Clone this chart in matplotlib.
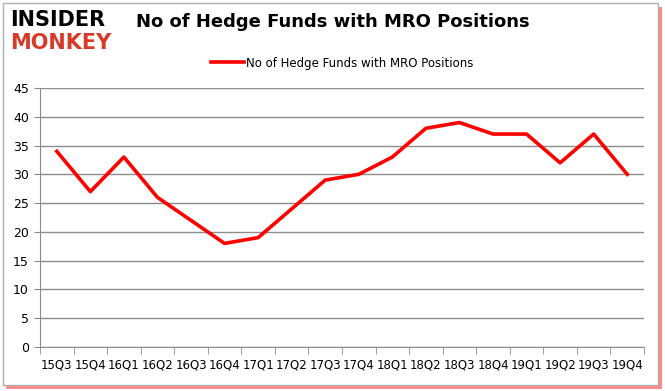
import matplotlib
matplotlib.use('Agg')
import matplotlib.pyplot as plt
from matplotlib.patches import Rectangle

quarters = ['15Q3', '15Q4', '16Q1', '16Q2', '16Q3', '16Q4', '17Q1', '17Q2', '17Q3',
            '17Q4', '18Q1', '18Q2', '18Q3', '18Q4', '19Q1', '19Q2', '19Q3', '19Q4']
funds = [34, 27, 33, 26, 22, 18, 19, 24, 29, 30, 33, 38, 39, 37, 37, 32, 37, 30]
series_name = 'No of Hedge Funds with MRO Positions'

fig = plt.figure(figsize=(6.65, 3.91), dpi=100)

# frame with red shadow
fig.patches.append(Rectangle((6 / 665, 2 / 391), 656 / 665, 382 / 391, transform=fig.transFigure,
                             facecolor='#ff2a2a', edgecolor='none', alpha=0.55, zorder=-2))
fig.patches.append(Rectangle((3 / 665, 6 / 391), 655 / 665, 382 / 391, transform=fig.transFigure,
                             facecolor='white', edgecolor='#b0b0b0', linewidth=1, zorder=-1))

ax = fig.add_axes([40 / 665, 1 - 347 / 391, 604 / 665, 259 / 391])
ax.patch.set_alpha(0)
x = list(range(len(quarters)))
ax.plot(x, funds, color='#ff0000', linewidth=2.6, label=series_name)
ax.set_xlim(-0.5, len(quarters) - 0.5)
ax.set_ylim(0, 45)
ax.set_yticks(range(0, 46, 5))
ax.set_xticks(x)
ax.set_xticklabels(quarters)
ax.grid(axis='y', color='#8c8c8c', linewidth=1)
ax.set_axisbelow(True)
for s in ['top', 'right']:
    ax.spines[s].set_visible(False)
ax.spines['left'].set_color('#8c8c8c')
ax.spines['bottom'].set_color('#8c8c8c')
ax.tick_params(axis='y', length=4, color='#8c8c8c', labelsize=9, pad=4)
ax.set_xticks([i - 0.5 for i in range(len(quarters) + 1)], minor=True)
ax.tick_params(axis='x', which='major', length=0, labelsize=8.5, pad=8)
ax.tick_params(axis='x', which='minor', length=5, color='#8c8c8c')

ax.legend(loc='lower center', bbox_to_anchor=(0.5, 1.03), frameon=False, fontsize=8.5,
          handlelength=2.8, handletextpad=0.2)

fig.text(0.5, 0.944, 'No of Hedge Funds with MRO Positions', ha='center', va='center',
         fontsize=13, fontweight='bold')
fig.text(0.015, 0.975, 'INSIDER', ha='left', va='top', fontsize=15, fontweight='black',
         color='black', family='DejaVu Sans')
fig.text(0.015, 0.915, 'MONKEY', ha='left', va='top', fontsize=15, fontweight='black',
         color='#d83a2a', family='DejaVu Sans')

fig.savefig('out.png', dpi=100)
